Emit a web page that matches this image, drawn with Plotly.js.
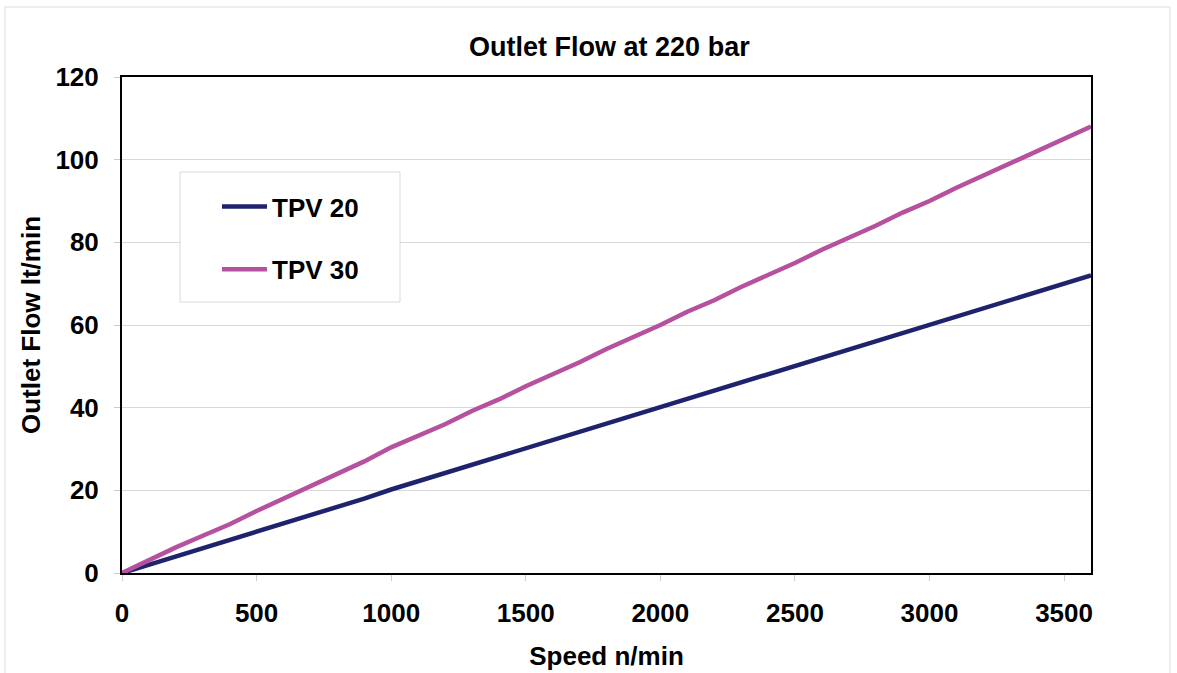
<!DOCTYPE html>
<html><head><meta charset="utf-8">
<script src="https://cdn.plot.ly/plotly-3.0.1.min.js"></script>
<style>html,body{margin:0;padding:0;background:#fff}#c{width:1177px;height:673px}</style>
</head><body><div id="c"></div>
<script>
const speed = [0,100,200,300,400,500,600,700,800,900,1000,1100,1200,1300,1400,1500,1600,1700,1800,1900,2000,2100,2200,2300,2400,2500,2600,2700,2800,2900,3000,3100,3200,3300,3400,3500,3600];
const tpv20 = [0,2,4,6,8,10,11.8,13.8,16,18,20.2,22.2,24.2,26.2,28.2,30.2,32.2,34.2,36,38,40.2,42.2,44.2,46.2,48.2,50.2,52.2,54.2,56.2,58.2,60,62,64,66,68,70,72];
const tpv30 = [0,3.2,6.2,9,11.8,15,18,21.2,24,27,30.4,33.2,36,39.2,42,45.2,48,51,54.2,57,60,63.2,66,69.2,72,75,78.2,81,84,87.2,90,93.2,96.2,99,102.2,105,108];
const series = ["TPV 20","TPV 30"];
const colors = ["#1f236e","#b5519e"];
const xTicks = [0,500,1000,1500,2000,2500,3000,3500];
const yTicks = [0,20,40,60,80,100,120];

const F = "Liberation Sans, Arial, sans-serif";
const traces = [tpv20, tpv30].map((v,i)=>({
  x: speed, y: v, type:'scatter', mode:'lines', name: series[i],
  line:{color:colors[i], width:4.5}, legendgroup:'g'+i
}));
const layout = {
  width:1177, height:673,
  margin:{l:122, r:86, t:77, b:100},
  paper_bgcolor:'#fff', plot_bgcolor:'#fff',
  font:{family:F, color:'#000'},
  title:{text:'<b>Outlet Flow at 220 bar</b>', font:{size:27, family:F, color:'#000'}, x:592/1177, xanchor:'center', y:1-47/673, yanchor:'middle', xref:'paper'},
  xaxis:{range:[0,3600], tickvals:xTicks, ticktext:xTicks.map(String), showgrid:false, zeroline:false,
    showline:true, linecolor:'#000', linewidth:2, mirror:true,
    ticks:'outside', ticklen:6, tickcolor:'#ccc', tickwidth:1, ticklabelstandoff:10,
    tickfont:{size:26, family:F, weight:'bold'},
    title:{text:'<b>Speed n/min</b>', font:{size:26, family:F}, standoff:20}},
  yaxis:{range:[0,120], tickvals:yTicks, ticktext:yTicks.map(String), showgrid:true, gridcolor:'#d9d9d9', gridwidth:1, zeroline:false,
    showline:true, linecolor:'#000', linewidth:2, mirror:true,
    ticks:'outside', ticklen:6, tickcolor:'#ccc', tickwidth:1, ticklabelstandoff:10,
    tickfont:{size:26, family:F, weight:'bold'},
    title:{text:'<b>Outlet Flow lt/min</b>', font:{size:26, family:F}, standoff:7}},
  showlegend:true,
  legend:{x:(217-122)/969, y:(573-183)/496, xanchor:'left', yanchor:'top', bgcolor:'rgba(0,0,0,0)', borderwidth:0,
    font:{size:26, family:F, weight:'bold'}, traceorder:'grouped', tracegroupgap:26, itemwidth:45},
  shapes:[
    {type:'rect', xref:'paper', yref:'paper', x0:(180-122)/969, x1:(400-122)/969, y0:(573-302)/496, y1:(573-172)/496,
     line:{color:'#d9d9d9', width:1}, fillcolor:'#fff', layer:'above'},
    {type:'rect', xref:'paper', yref:'paper', x0:(5-122)/969, x1:(1170-122)/969, y0:(573-690)/496, y1:(573-7)/496,
     line:{color:'#dddddd', width:1}, fillcolor:'rgba(0,0,0,0)', layer:'below'}
  ]
};
Plotly.newPlot('c', traces, layout, {displayModeBar:false, staticPlot:true});
</script></body></html>
